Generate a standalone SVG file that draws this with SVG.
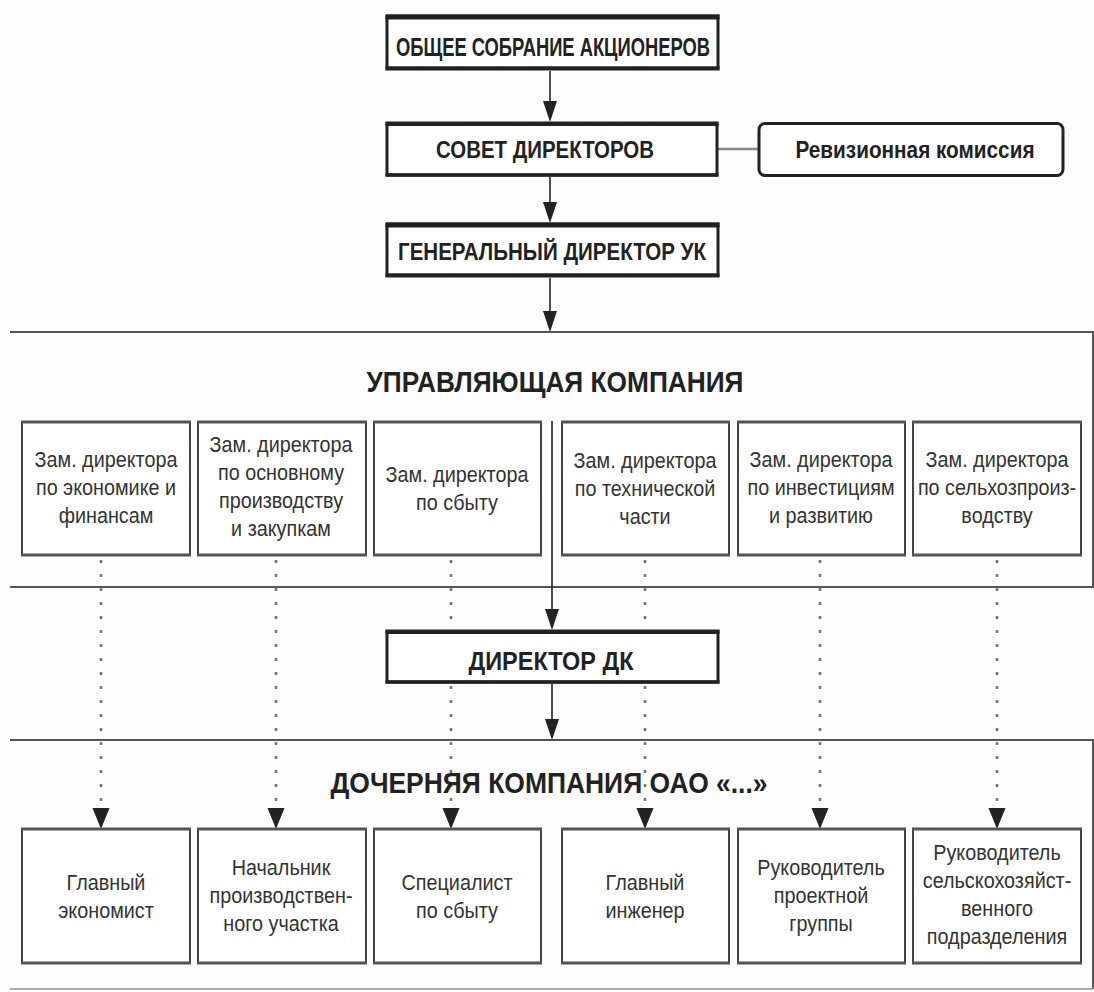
<svg xmlns="http://www.w3.org/2000/svg" width="1094" height="992" viewBox="0 0 1094 992">
<style>
.bg{fill:#fdfdfd}
.hbox{fill:#fff;stroke:#222;stroke-width:3}
.hband{stroke:#222;stroke-width:5}
.box{fill:#fff;stroke:#444;stroke-width:2}
.boxtop{stroke:#555;stroke-width:3}
.sec{fill:none;stroke:#555;stroke-width:2}
.arrow{stroke:#222;stroke-width:1.6;fill:none}
.dot{stroke:#777;stroke-width:2.6;stroke-dasharray:3 11;fill:none}
.link{stroke:#888;stroke-width:2.5}
.head{fill:#222}
.ht{font-family:"Liberation Sans",Arial,sans-serif;font-weight:bold;fill:#222;text-anchor:middle}
.bt{font-family:"Liberation Sans",Arial,sans-serif;font-size:22px;fill:#333;text-anchor:middle}
</style>
<rect class="bg" x="0" y="0" width="1094" height="992"/>

<g id="sections">
<path class="sec" d="M10,332 H1093 V587 H10"/>
<path class="sec" d="M10,740 H1093 V989"/>
<path class="sec" d="M10,989 H1093" style="stroke:#aaa"/>
</g>

<g id="connectors">
<line class="link" x1="717" y1="149" x2="759" y2="149"/>
<path class="arrow" d="M550,71 V105"/>
<path class="arrow" d="M550,177 V205"/>
<path class="arrow" d="M550,278 V314"/>
<path class="arrow" d="M552,421 V612"/>
<path class="arrow" d="M552,684 V722"/>
<path class="head" d="M543,101 H557 L550,122 Z"/>
<path class="head" d="M543,202 H557 L550,223 Z"/>
<path class="head" d="M543,311 H557 L550,332 Z"/>
<path class="head" d="M545,609 H559 L552,630 Z"/>
<path class="head" d="M545,719 H559 L552,740 Z"/>
<path class="dot" d="M101,560 V808"/>
<path class="dot" d="M276,560 V808"/>
<path class="dot" d="M451,560 V808"/>
<path class="dot" d="M645,560 V808"/>
<path class="dot" d="M820,560 V808"/>
<path class="dot" d="M997,560 V808"/>
<path class="head" d="M92.5,808 H109.5 L101,829 Z"/>
<path class="head" d="M267.5,808 H284.5 L276,829 Z"/>
<path class="head" d="M442.5,808 H459.5 L451,829 Z"/>
<path class="head" d="M636.5,808 H653.5 L645,829 Z"/>
<path class="head" d="M811.5,808 H828.5 L820,829 Z"/>
<path class="head" d="M988.5,808 H1005.5 L997,829 Z"/>
</g>

<g id="n-obshee">
<rect class="hbox" x="387" y="16" width="331" height="53"/>
<line class="hband" x1="385.5" y1="17" x2="719.5" y2="17"/>
<line class="hband" x1="385.5" y1="68" x2="719.5" y2="68" style="stroke-width:3.5"/>
<text class="ht" x="553" y="56" font-size="25" textLength="314" lengthAdjust="spacingAndGlyphs">ОБЩЕЕ СОБРАНИЕ АКЦИОНЕРОВ</text>
</g>

<g id="n-sovet">
<rect class="hbox" x="387" y="123" width="330" height="52"/>
<line class="hband" x1="385.5" y1="124" x2="718.5" y2="124" style="stroke-width:4"/>
<line class="hband" x1="385.5" y1="175" x2="718.5" y2="175" style="stroke-width:3.5"/>
<text class="ht" x="545" y="158" font-size="23" textLength="218" lengthAdjust="spacingAndGlyphs">СОВЕТ ДИРЕКТОРОВ</text>
</g>

<g id="n-revizia">
<rect class="hbox" x="759" y="123.5" width="304" height="52" rx="6" ry="6"/>
<text class="ht" x="915" y="158" font-size="23" textLength="239" lengthAdjust="spacingAndGlyphs">Ревизионная комиссия</text>
</g>

<g id="n-gendir">
<rect class="hbox" x="387" y="224" width="331" height="52"/>
<line class="hband" x1="385.5" y1="225" x2="719.5" y2="225"/>
<line class="hband" x1="385.5" y1="275" x2="719.5" y2="275" style="stroke-width:3.5"/>
<text class="ht" x="552" y="260" font-size="24" textLength="308" lengthAdjust="spacingAndGlyphs">ГЕНЕРАЛЬНЫЙ ДИРЕКТОР УК</text>
</g>

<g id="t-uk">
<text class="ht" x="555" y="392" font-size="30" textLength="377" lengthAdjust="spacingAndGlyphs">УПРАВЛЯЮЩАЯ КОМПАНИЯ</text>
</g>

<g id="n-zam1">
<rect class="box" x="22" y="422" width="168" height="133"/>
<line class="boxtop" x1="21" y1="422" x2="191" y2="422"/>
<line class="boxtop" x1="21" y1="555" x2="191" y2="555"/>
<text class="bt" transform="translate(106 0) scale(0.9 1)"><tspan x="0" y="467">Зам. директора</tspan><tspan x="0" y="495">по экономике и</tspan><tspan x="0" y="523">финансам</tspan></text>
</g>
<g id="n-zam2">
<rect class="box" x="198" y="422" width="168" height="133"/>
<line class="boxtop" x1="197" y1="422" x2="367" y2="422"/>
<line class="boxtop" x1="197" y1="555" x2="367" y2="555"/>
<text class="bt" transform="translate(281 0) scale(0.9 1)"><tspan x="0" y="452">Зам. директора</tspan><tspan x="0" y="480">по основному</tspan><tspan x="0" y="508">производству</tspan><tspan x="0" y="536">и закупкам</tspan></text>
</g>
<g id="n-zam3">
<rect class="box" x="374" y="422" width="167" height="133"/>
<line class="boxtop" x1="373" y1="422" x2="542" y2="422"/>
<line class="boxtop" x1="373" y1="555" x2="542" y2="555"/>
<text class="bt" transform="translate(457 0) scale(0.9 1)"><tspan x="0" y="482">Зам. директора</tspan><tspan x="0" y="510">по сбыту</tspan></text>
</g>
<g id="n-zam4">
<rect class="box" x="562" y="422" width="167" height="133"/>
<line class="boxtop" x1="561" y1="422" x2="730" y2="422"/>
<line class="boxtop" x1="561" y1="555" x2="730" y2="555"/>
<text class="bt" transform="translate(645 0) scale(0.9 1)"><tspan x="0" y="468">Зам. директора</tspan><tspan x="0" y="496">по технической</tspan><tspan x="0" y="524">части</tspan></text>
</g>
<g id="n-zam5">
<rect class="box" x="738" y="422" width="167" height="133"/>
<line class="boxtop" x1="737" y1="422" x2="906" y2="422"/>
<line class="boxtop" x1="737" y1="555" x2="906" y2="555"/>
<text class="bt" transform="translate(821 0) scale(0.9 1)"><tspan x="0" y="467">Зам. директора</tspan><tspan x="0" y="495">по инвестициям</tspan><tspan x="0" y="523">и развитию</tspan></text>
</g>
<g id="n-zam6">
<rect class="box" x="913" y="422" width="168" height="133"/>
<line class="boxtop" x1="912" y1="422" x2="1082" y2="422"/>
<line class="boxtop" x1="912" y1="555" x2="1082" y2="555"/>
<text class="bt" transform="translate(997 0) scale(0.9 1)"><tspan x="0" y="467">Зам. директора</tspan><tspan x="0" y="495">по сельхозпроиз-</tspan><tspan x="0" y="523">водству</tspan></text>
</g>

<g id="n-dirdk">
<rect class="hbox" x="387" y="631" width="331" height="51"/>
<line class="hband" x1="385.5" y1="632" x2="719.5" y2="632" style="stroke-width:4"/>
<line class="hband" x1="385.5" y1="682" x2="719.5" y2="682" style="stroke-width:3.5"/>
<text class="ht" x="551" y="670" font-size="26" textLength="165" lengthAdjust="spacingAndGlyphs">ДИРЕКТОР ДК</text>
</g>

<g id="t-dk">
<text class="ht" x="549" y="793" font-size="30" textLength="437" lengthAdjust="spacingAndGlyphs">ДОЧЕРНЯЯ КОМПАНИЯ ОАО «...»</text>
</g>

<g id="n-econ">
<rect class="box" x="22" y="829" width="168" height="134"/>
<line class="boxtop" x1="21" y1="829" x2="191" y2="829"/>
<line class="boxtop" x1="21" y1="963" x2="191" y2="963"/>
<text class="bt" transform="translate(106 0) scale(0.9 1)"><tspan x="0" y="890">Главный</tspan><tspan x="0" y="918">экономист</tspan></text>
</g>
<g id="n-nach">
<rect class="box" x="198" y="829" width="168" height="134"/>
<line class="boxtop" x1="197" y1="829" x2="367" y2="829"/>
<line class="boxtop" x1="197" y1="963" x2="367" y2="963"/>
<text class="bt" transform="translate(281 0) scale(0.9 1)"><tspan x="0" y="875">Начальник</tspan><tspan x="0" y="903">производствен-</tspan><tspan x="0" y="931">ного участка</tspan></text>
</g>
<g id="n-spec">
<rect class="box" x="374" y="829" width="167" height="134"/>
<line class="boxtop" x1="373" y1="829" x2="542" y2="829"/>
<line class="boxtop" x1="373" y1="963" x2="542" y2="963"/>
<text class="bt" transform="translate(457 0) scale(0.9 1)"><tspan x="0" y="890">Специалист</tspan><tspan x="0" y="918">по сбыту</tspan></text>
</g>
<g id="n-ing">
<rect class="box" x="562" y="829" width="167" height="134"/>
<line class="boxtop" x1="561" y1="829" x2="730" y2="829"/>
<line class="boxtop" x1="561" y1="963" x2="730" y2="963"/>
<text class="bt" transform="translate(645 0) scale(0.9 1)"><tspan x="0" y="890">Главный</tspan><tspan x="0" y="918">инженер</tspan></text>
</g>
<g id="n-proekt">
<rect class="box" x="738" y="829" width="167" height="134"/>
<line class="boxtop" x1="737" y1="829" x2="906" y2="829"/>
<line class="boxtop" x1="737" y1="963" x2="906" y2="963"/>
<text class="bt" transform="translate(821 0) scale(0.9 1)"><tspan x="0" y="875">Руководитель</tspan><tspan x="0" y="903">проектной</tspan><tspan x="0" y="931">группы</tspan></text>
</g>
<g id="n-selhoz">
<rect class="box" x="913" y="829" width="168" height="134"/>
<line class="boxtop" x1="912" y1="829" x2="1082" y2="829"/>
<line class="boxtop" x1="912" y1="963" x2="1082" y2="963"/>
<text class="bt" transform="translate(997 0) scale(0.9 1)"><tspan x="0" y="860">Руководитель</tspan><tspan x="0" y="888">сельскохозяйст-</tspan><tspan x="0" y="916">венного</tspan><tspan x="0" y="944">подразделения</tspan></text>
</g>
</svg>
